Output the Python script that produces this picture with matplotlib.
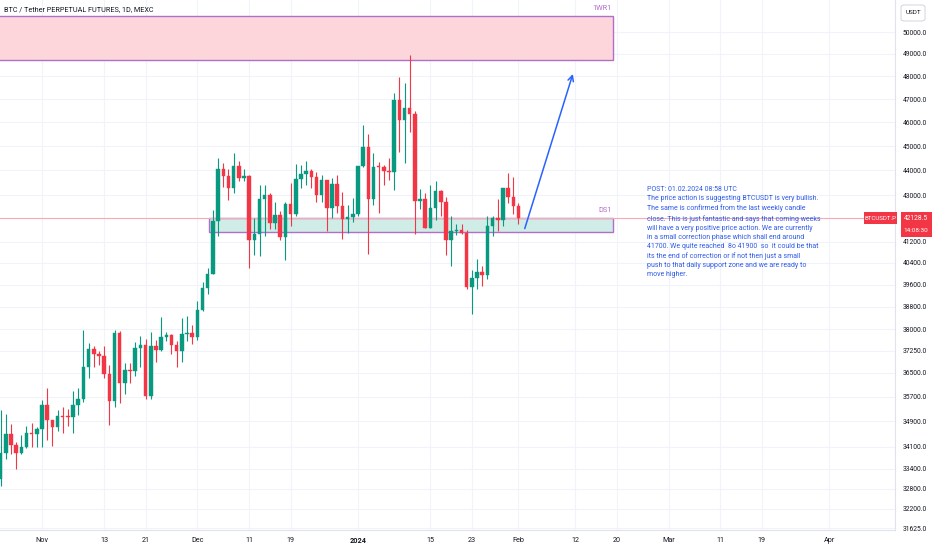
import matplotlib
import numpy as np
import pandas as pd

matplotlib.use("Agg")
import matplotlib.dates as mdates
import matplotlib.pyplot as plt
from matplotlib.patches import Rectangle, FancyBboxPatch

# daily BTCUSDT.P candles, 24 Oct 2023 .. 1 Feb 2024
START, END = "2023-10-24", "2024-02-01"
opens = [
    33086, 33901, 34502, 34156, 33909, 34089, 34538, 34502, 34667, 35437,
    34938, 34732, 35082, 35049, 35037, 35417, 35633, 36702, 37310, 37130,
    37065, 36462, 35551, 37880, 36163, 36613, 36568, 37359, 37448, 35741,
    37410, 37289, 37720, 37797, 37454, 37242, 37818, 37854, 37723, 38682,
    39457, 39972, 41991, 44074, 43763, 43274, 44171, 43713, 43789, 41253,
    41492, 42870, 43023, 41930, 42241, 41365, 42659, 42262, 43652, 43869,
    43997, 43740, 43017, 43613, 42520, 43443, 42581, 42066, 42140, 42283,
    44179, 44946, 42845, 44151, 44145, 43968, 43929, 46951, 46111, 46633,
    46340, 42782, 42842, 41733, 42511, 43154, 42742, 41262, 41619, 41665,
    41546, 39507, 39845, 40077, 39933, 41816, 42120, 42031, 43300, 42946,
    42580,
]
highs = [
    35280, 35132, 34828, 34245, 34480, 34750, 34856, 34720, 35584, 35985,
    34946, 35280, 35380, 35290, 35890, 35980, 37972, 37526, 37400, 37230,
    37420, 36750, 37980, 37930, 36850, 36850, 37540, 37750, 37650, 37890,
    37640, 38420, 37890, 37840, 37580, 38380, 38450, 38150, 38999, 39700,
    40200, 42420, 44490, 44300, 44050, 44700, 44370, 44040, 43805, 42104,
    43432, 43420, 43087, 42720, 42400, 42750, 43480, 44275, 44240, 44400,
    44040, 43950, 43800, 43620, 43680, 43800, 43125, 42610, 42900, 44190,
    45900, 45500, 44730, 44340, 44230, 44500, 47250, 47970, 47690, 48970,
    46500, 43260, 43080, 43400, 43580, 43200, 42930, 42200, 41880, 41870,
    41650, 40130, 40550, 40300, 42200, 42200, 42840, 43300, 43880, 43750,
    42700,
]
lows = [
    32880, 33700, 33866, 33390, 33860, 34050, 34076, 34075, 34100, 34320,
    34125, 34580, 34525, 34740, 34520, 35120, 35535, 36330, 36710, 36750,
    36340, 34800, 35360, 35500, 35800, 36160, 36380, 36700, 35630, 35630,
    36870, 37250, 37600, 37150, 36700, 36870, 37600, 37500, 37615, 38650,
    39270, 39970, 41420, 43340, 42820, 43080, 43580, 43560, 40222, 40680,
    40672, 41400, 41700, 41680, 41250, 40500, 41800, 42200, 43280, 43400,
    43300, 42750, 42720, 41620, 42100, 42300, 41300, 41520, 41970, 42180,
    44150, 40750, 42630, 42300, 43410, 43600, 43200, 44750, 44300, 45600,
    41500, 42450, 41720, 41720, 42050, 42200, 40680, 40280, 41450, 41500,
    39430, 38555, 39450, 39550, 39820, 41400, 41620, 41800, 42680, 42270,
    41880,
]
closes = [
    33901, 34502, 34156, 33909, 34089, 34538, 34502, 34667, 35437, 34938,
    34732, 35082, 35049, 35037, 35417, 35633, 36702, 37310, 37130, 37065,
    36462, 35551, 37880, 36163, 36613, 36568, 37359, 37448, 35741, 37410,
    37289, 37720, 37797, 37454, 37242, 37818, 37854, 37723, 38682, 39457,
    39972, 41991, 44074, 43763, 43274, 44171, 43713, 43789, 41253, 41492,
    42870, 43023, 41930, 42241, 41365, 42659, 42262, 43652, 43869, 43997,
    43740, 43017, 43613, 42520, 43443, 42581, 42066, 42140, 42283, 44179,
    44946, 42845, 44151, 44145, 43968, 43929, 46951, 46111, 46633, 46340,
    42782, 42842, 41733, 42511, 43154, 42742, 41262, 41619, 41665, 41546,
    39507, 39845, 40077, 39933, 41816, 42120, 42031, 43300, 42946, 42580,
    42128,
]

price_ticks = [50000, 49000, 48000, 47000, 46000, 45000, 44000, 43000, 41200,
               40400, 39600, 38800, 38000, 37250, 36500, 35700, 34900, 34100,
               33400, 32800, 32200, 31625]
date_ticks = ["2023-11-01", "2023-11-13", "2023-11-21", "2023-12-01", "2023-12-11",
              "2023-12-19", "2024-01-01", "2024-01-15", "2024-01-23", "2024-02-01",
              "2024-02-12", "2024-02-20", "2024-03-01", "2024-03-11", "2024-03-19",
              "2024-04-01"]
date_labels = ["Nov", "13", "21", "Dec", "11", "19", "2024", "15", "23", "Feb",
               "12", "20", "Mar", "11", "19", "Apr"]

# drawings
WR1_ZONE = (48724, 50745)
DS1_ZONE = (41570, 42100)
ZONE_END = "2024-02-19 06:00"
DS1_START = "2023-12-03 06:00"
ARROW_FROM = ("2024-02-02 05:00", 41700)
ARROW_TO = ("2024-02-11 12:00", 48100)
LAST_PRICE = 42128.5

NOTE = (
    "POST: 01.02.2024 08:58 UTC\n"
    "The price action is suggesting BTCUSDT is very bullish.\n"
    "The same is confirmed from the last weekly candle\n"
    "close. This is just fantastic and says that coming weeks\n"
    "will have a very positive price action. We are currently\n"
    "in a small correction phase which shall end around\n"
    "41700. We quite reached  8o 41900  so  it could be that\n"
    "its the end of correction or if not then just a small\n"
    "push to that daily support zone and we are ready to\n"
    "move higher."
)

UP, DOWN = "#089981", "#f23645"
GRID = "#f0f3fa"
TEXT = "#131722"
PURPLE = "#b16fc9"

plt.rcParams["font.family"] = ["Roboto", "DejaVu Sans"]

dates = pd.date_range(START, END, freq="D")
x = mdates.date2num(dates)
o, h, l, c = map(np.array, (opens, highs, lows, closes))

fig = plt.figure(figsize=(9.32, 5.5), dpi=100)
ax = fig.add_axes([0, 20 / 550, 895 / 932, 530 / 550])
ax.set_yscale("log")

nov1 = mdates.date2num(pd.Timestamp("2023-11-01"))
ax.set_xlim(nov1 - 8.11, nov1 + 164.7)
ax.set_ylim(31570, 51500)

# grid
for p in price_ticks:
    ax.axhline(p, color=GRID, linewidth=0.8, zorder=0)
for d in date_ticks:
    ax.axvline(mdates.date2num(pd.Timestamp(d)), color=GRID, linewidth=0.8, zorder=0)

# zones
x_end = mdates.date2num(pd.Timestamp(ZONE_END))
x_ds = mdates.date2num(pd.Timestamp(DS1_START))
ax.add_patch(Rectangle((x[0] - 30, WR1_ZONE[0]), x_end - x[0] + 30, WR1_ZONE[1] - WR1_ZONE[0],
                       facecolor="#fcd6db", edgecolor=PURPLE, linewidth=1.0, zorder=1))
ax.add_patch(Rectangle((x_ds, DS1_ZONE[0]), x_end - x_ds, DS1_ZONE[1] - DS1_ZONE[0],
                       facecolor="#cfece6", edgecolor=PURPLE, linewidth=1.0, zorder=1))
ax.text(x_end - 0.3, 51120, "1WR1", color=PURPLE, fontsize=5.3, ha="right", va="center")
ax.text(x_end - 0.3, 42420, "DS1", color=PURPLE, fontsize=5.3, ha="right", va="center")

# last price line
ax.axhline(LAST_PRICE, color="#f7a9b6", linewidth=0.8, zorder=1)

# candles
body_w = 0.68
for xi, oi, hi, li, ci in zip(x, o, h, l, c):
    col = UP if ci >= oi else DOWN
    ax.vlines(xi, li, hi, color=col, linewidth=0.8, zorder=2)
    lo, top = min(oi, ci), max(oi, ci)
    if top - lo < 25:
        top = lo + 25
    ax.add_patch(Rectangle((xi - body_w / 2, lo), body_w, top - lo,
                           facecolor=col, edgecolor=col, linewidth=0.3, zorder=3))

# arrow
a0 = (mdates.date2num(pd.Timestamp(ARROW_FROM[0])), ARROW_FROM[1])
a1 = (mdates.date2num(pd.Timestamp(ARROW_TO[0])), ARROW_TO[1])
ax.annotate("", xy=a1, xytext=a0,
            arrowprops=dict(arrowstyle="->", color="#2962ff", linewidth=1.1,
                            mutation_scale=10, shrinkA=0, shrinkB=0), zorder=4)

# axes styling
ax.set_yticks(price_ticks)
ax.set_yticklabels([f"{p:.1f}" for p in price_ticks])
ax.yaxis.set_minor_locator(matplotlib.ticker.NullLocator())
ax.yaxis.tick_right()
ax.tick_params(axis="y", length=0, pad=5.5, labelsize=4.9, labelcolor=TEXT)
ax.set_xticks([mdates.date2num(pd.Timestamp(d)) for d in date_ticks])
ax.set_xticklabels(date_labels)
ax.tick_params(axis="x", length=0, pad=5, labelsize=5.2, labelcolor=TEXT)
for lab in ax.get_xticklabels():
    if lab.get_text() == "2024":
        lab.set_fontweight("bold")
for side in ("top", "left"):
    ax.spines[side].set_visible(False)
for side in ("right", "bottom"):
    ax.spines[side].set_color("#e0e3eb")
    ax.spines[side].set_linewidth(0.8)

# header + note
fig.text(4 / 932, 1 - 10 / 550, "BTC / Tether PERPETUAL FUTURES, 1D, MEXC",
         fontsize=5.2, color=TEXT, va="center", ha="left")
fig.text(647 / 932, 1 - 186 / 550, NOTE, fontsize=5.0, color="#2f5be8",
         va="top", ha="left", linespacing=1.42)

# price scale widgets
fig.patches.append(FancyBboxPatch((901 / 932, 1 - 21 / 550), 24 / 932, 16 / 550,
                                  boxstyle="round,pad=0,rounding_size=0.004",
                                  transform=fig.transFigure, facecolor="white",
                                  edgecolor="#d1d4dc", linewidth=0.7))
fig.text(913 / 932, 1 - 13 / 550, "USDT", fontsize=4.6, color=TEXT, ha="center", va="center")

fig.patches.append(Rectangle((864 / 932, 1 - 224 / 550), 33 / 932, 12 / 550,
                             transform=fig.transFigure, facecolor=DOWN, edgecolor="none"))
fig.text(880.5 / 932, 1 - 218 / 550, "BTCUSDT.P", fontsize=4.4, color="white",
         ha="center", va="center")
fig.patches.append(Rectangle((901 / 932, 1 - 237 / 550), 31 / 932, 25 / 550,
                             transform=fig.transFigure, facecolor=DOWN, edgecolor="none"))
fig.text(916 / 932, 1 - 218 / 550, "42128.5", fontsize=4.8, color="white",
         ha="center", va="center")
fig.text(916 / 932, 1 - 230 / 550, "14:08:30", fontsize=4.6, color="white",
         ha="center", va="center")

fig.savefig("out.png", dpi=100)
